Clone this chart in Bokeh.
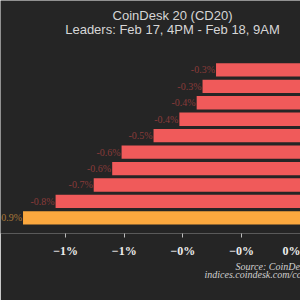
from bokeh.plotting import figure
from bokeh.models import ColumnDataSource, Range1d, FixedTicker, CustomJSTickFormatter, Label, Title
from bokeh.embed import file_html
from bokeh.resources import INLINE

# data (percent change, leaders list, top to bottom)
assets = ["A1", "A2", "A3", "A4", "A5", "A6", "A7", "A8", "A9", "A10"]
changes = [-0.287, -0.333, -0.353, -0.412, -0.50, -0.609, -0.641, -0.704, -0.834, -0.945]
highlight = [False, False, False, False, False, False, False, False, False, True]
tick_values = [-0.8, -0.6, -0.4, -0.2, 0.0]
title_line1 = "CoinDesk 20 (CD20)"
title_line2 = "Leaders: Feb 17, 4PM - Feb 18, 9AM"
source_line1 = "Source: CoinDesk Indices"
source_line2 = "indices.coindesk.com/coindesk-20"

BG = "#252525"
RED = "#F05A5A"
ORANGE = "#FCA83E"
RED_TXT = "#8A3B3A"
ORANGE_TXT = "#A9783A"

idx = list(range(len(assets)))
colors = [ORANGE if h else RED for h in highlight]
txt_colors = [ORANGE_TXT if h else RED_TXT for h in highlight]
labels = [f"{v:.1f}%" for v in changes]

src = ColumnDataSource(dict(y=idx, v=changes, color=colors, tcol=txt_colors, lab=labels))

p = figure(width=300, height=300, output_backend="svg", toolbar_location=None,
           x_range=Range1d(-1.0218, 0.001), y_range=Range1d(9.951, -4.221),
           y_axis_location=None, min_border_left=0, min_border_right=0,
           min_border_top=0, min_border_bottom=67,
           background_fill_color=BG, border_fill_color=BG, outline_line_color=None)
p.grid.visible = False

p.hbar(y="y", left="v", right=0, height=0.81, fill_color="color", line_color=None, source=src)
p.text(x="v", y="y", text="lab", text_color="tcol", text_align="right", text_baseline="middle",
       x_offset=-1, text_font_size="10px", text_font={"value": "Liberation Serif"}, source=src)

ax = p.xaxis[0]
ax.ticker = FixedTicker(ticks=tick_values)
ax.formatter = CustomJSTickFormatter(code="""
const r = Math.round(Math.abs(tick));
return (tick < 0 ? "\u2212" : "") + r + "%";
""")
ax.axis_line_color = None
ax.major_tick_in = 0
ax.major_tick_out = 4
ax.major_tick_line_color = "#bdbdbd"
ax.minor_tick_line_color = None
ax.major_label_standoff = 6
ax.major_label_text_font = "Liberation Serif"
ax.major_label_text_font_style = "bold"
ax.major_label_text_font_size = "12px"
ax.major_label_text_color = "#ececec"

for txt, yy in [(title_line1, -3.309), (title_line2, -2.457)]:
    p.add_layout(Label(x=-0.4354, y=yy, text=txt, text_align="center", text_baseline="middle",
                       text_font="Liberation Sans", text_font_size="13px", text_color="#d6d6d6"))

for txt, off, so in [(source_line1, 235, -3), (source_line2, 204, -7)]:
    p.add_layout(Title(text=txt, align="left", offset=off, standoff=so,
                       text_font="Liberation Serif", text_font_style="italic",
                       text_font_size="10px", text_color="#d0d0d0"), "below")

open("out.html", "w").write(file_html(p, INLINE))
